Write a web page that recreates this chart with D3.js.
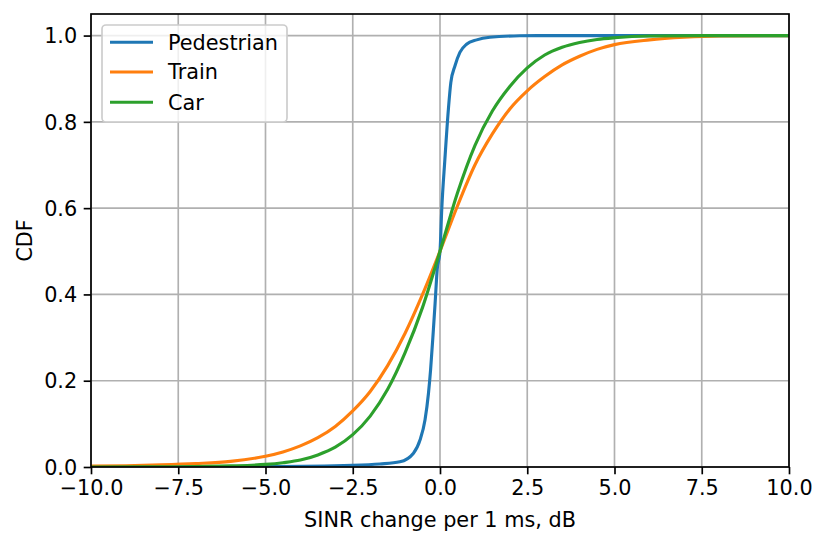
<!DOCTYPE html>
<html>
<head>
<meta charset="utf-8">
<script src="https://cdn.jsdelivr.net/npm/d3@7"></script>
<style>
  body { margin: 0; background: #fff; }
  text { font-family: "DejaVu Sans", sans-serif; }
</style>
</head>
<body>
<script>
'use strict';

// values
const seriesNames = ["Pedestrian", "Train", "Car"];
const seriesColors = ["#1f77b4", "#ff7f0e", "#2ca02c"];

const pedX = [-10, -5, -2.5, -1.72, -1.15, -0.76, -0.57, -0.43, -0.33, -0.27, -0.19, -0.14, -0.08, 0,
    0.05, 0.14, 0.24, 0.31, 0.43, 0.57, 0.76, 1.05, 1.43, 2.29, 3, 5, 10];
const pedY = [0, 0.001, 0.004, 0.007, 0.012, 0.032, 0.063, 0.109, 0.171, 0.225, 0.318, 0.38, 0.458, 0.5,
    0.597, 0.713, 0.829, 0.891, 0.93, 0.961, 0.98, 0.99, 0.996, 0.9995, 1, 1, 1];

const trainX = [-10, -9, -8, -7, -6, -5, -4.5, -4, -3.5, -3, -2.5, -2, -1.5, -1, -0.5, 0,
    0.5, 1, 1.5, 2, 2.5, 3, 3.5, 4, 4.5, 5, 6, 7, 8, 10];
const trainY = [0.002, 0.003, 0.005, 0.008, 0.013, 0.025, 0.035, 0.049, 0.068, 0.094, 0.13, 0.175, 0.235, 0.31, 0.4, 0.5,
    0.605, 0.70, 0.772, 0.83, 0.872, 0.905, 0.932, 0.952, 0.968, 0.979, 0.99, 0.996, 0.999, 1];

const carX = [-10, -7.5, -6, -5, -4.5, -4, -3.5, -3, -2.5, -2, -1.5, -1, -0.5, 0,
    0.5, 1, 1.5, 2, 2.5, 3, 3.5, 4, 4.5, 5, 6, 7.5, 10];
const carY = [0, 0.0006, 0.0025, 0.006, 0.01, 0.016, 0.028, 0.046, 0.075, 0.118, 0.18, 0.265, 0.37, 0.5,
    0.635, 0.745, 0.825, 0.882, 0.925, 0.955, 0.973, 0.984, 0.991, 0.995, 0.999, 1, 1];

const xTicks = [-10, -7.5, -5, -2.5, 0, 2.5, 5, 7.5, 10];
const yTicks = [0, 0.2, 0.4, 0.6, 0.8, 1.0];
const xLabel = "SINR change per 1 ms, dB";
const yLabel = "CDF";

(function() {
    const width = 826, height = 545;
    const left = 91, right = 789, top = 14, bottom = 467;
    const lw = 0.8 * 150 / 72; // matplotlib 0.8pt at 150 dpi
    const fontSize = "20.8px";

    const svg = d3.select("body").append("svg")
        .attr("width", width)
        .attr("height", height);

    const xScale = d3.scaleLinear().domain([-10, 10]).range([left, right]);
    const yScale = d3.scaleLinear().domain([0, 1.05]).range([bottom, top]);

    // grid
    svg.append("g").selectAll("line")
        .data(xTicks)
        .enter().append("line")
            .attr("x1", d => xScale(d)).attr("x2", d => xScale(d))
            .attr("y1", top).attr("y2", bottom)
            .attr("stroke", "#b0b0b0").attr("stroke-width", lw);
    svg.append("g").selectAll("line")
        .data(yTicks)
        .enter().append("line")
            .attr("x1", left).attr("x2", right)
            .attr("y1", d => yScale(d)).attr("y2", d => yScale(d))
            .attr("stroke", "#b0b0b0").attr("stroke-width", lw);

    // curves
    svg.append("clipPath").attr("id", "clip")
        .append("rect")
        .attr("x", left).attr("y", top)
        .attr("width", right - left).attr("height", bottom - top);

    const series = [
        { name: seriesNames[0], xs: pedX, ys: pedY },
        { name: seriesNames[1], xs: trainX, ys: trainY },
        { name: seriesNames[2], xs: carX, ys: carY }
    ];
    const line = d3.line()
        .x(d => xScale(d[0]))
        .y(d => yScale(d[1]))
        .curve(d3.curveMonotoneX);

    svg.append("g").attr("clip-path", "url(#clip)")
        .selectAll("path")
        .data(series)
        .enter().append("path")
            .attr("d", s => line(s.xs.map((x, i) => [x, s.ys[i]])))
            .attr("fill", "none")
            .attr("stroke", (s, i) => seriesColors[i])
            .attr("stroke-width", 1.5 * 150 / 72)
            .attr("stroke-linejoin", "round")
            .attr("stroke-linecap", "square");

    // axes
    const xAxis = d3.axisBottom(xScale)
        .tickValues(xTicks)
        .tickFormat(d3.format(".1f"))
        .tickSize(7.3)
        .tickPadding(6);
    const gx = svg.append("g")
        .attr("transform", "translate(0," + bottom + ")")
        .call(xAxis);

    const yAxis = d3.axisLeft(yScale)
        .tickValues(yTicks)
        .tickFormat(d3.format(".1f"))
        .tickSize(7.3)
        .tickPadding(6.5);
    const gy = svg.append("g")
        .attr("transform", "translate(" + left + ",0)")
        .call(yAxis);

    [gx, gy].forEach(g => {
        g.select(".domain").remove();
        g.selectAll(".tick line").attr("stroke", "#000").attr("stroke-width", lw);
        g.selectAll(".tick text")
            .attr("fill", "#000")
            .style("font-size", fontSize)
            .style("font-family", "DejaVu Sans");
    });
    gy.selectAll(".tick text").attr("dy", "0.35em");

    // spines
    svg.append("rect")
        .attr("x", left).attr("y", top)
        .attr("width", right - left).attr("height", bottom - top)
        .attr("fill", "none")
        .attr("stroke", "#000")
        .attr("stroke-width", lw);

    // axis labels
    svg.append("text")
        .attr("x", (left + right) / 2)
        .attr("y", 527)
        .attr("text-anchor", "middle")
        .style("font-size", fontSize)
        .text(xLabel);
    svg.append("text")
        .attr("transform", "translate(31.5," + ((top + bottom) / 2) + ") rotate(-90)")
        .attr("text-anchor", "middle")
        .style("font-size", fontSize)
        .text(yLabel);

    // legend
    const legend = svg.append("g");
    legend.append("rect")
        .attr("x", 102).attr("y", 25)
        .attr("width", 185).attr("height", 97)
        .attr("rx", 4).attr("ry", 4)
        .attr("fill", "#fff").attr("fill-opacity", 0.8)
        .attr("stroke", "#cccccc").attr("stroke-width", lw);
    const rowY = [42.3, 72, 102.3];
    legend.selectAll(".lline")
        .data(seriesNames)
        .enter().append("line")
            .attr("x1", 110).attr("x2", 153)
            .attr("y1", (d, i) => rowY[i]).attr("y2", (d, i) => rowY[i])
            .attr("stroke", (d, i) => seriesColors[i])
            .attr("stroke-width", 1.5 * 150 / 72);
    legend.selectAll(".ltext")
        .data(seriesNames)
        .enter().append("text")
            .attr("x", 168)
            .attr("y", (d, i) => rowY[i])
            .attr("dy", "0.36em")
            .style("font-size", fontSize)
            .text(d => d);
})();
</script>
</body>
</html>
